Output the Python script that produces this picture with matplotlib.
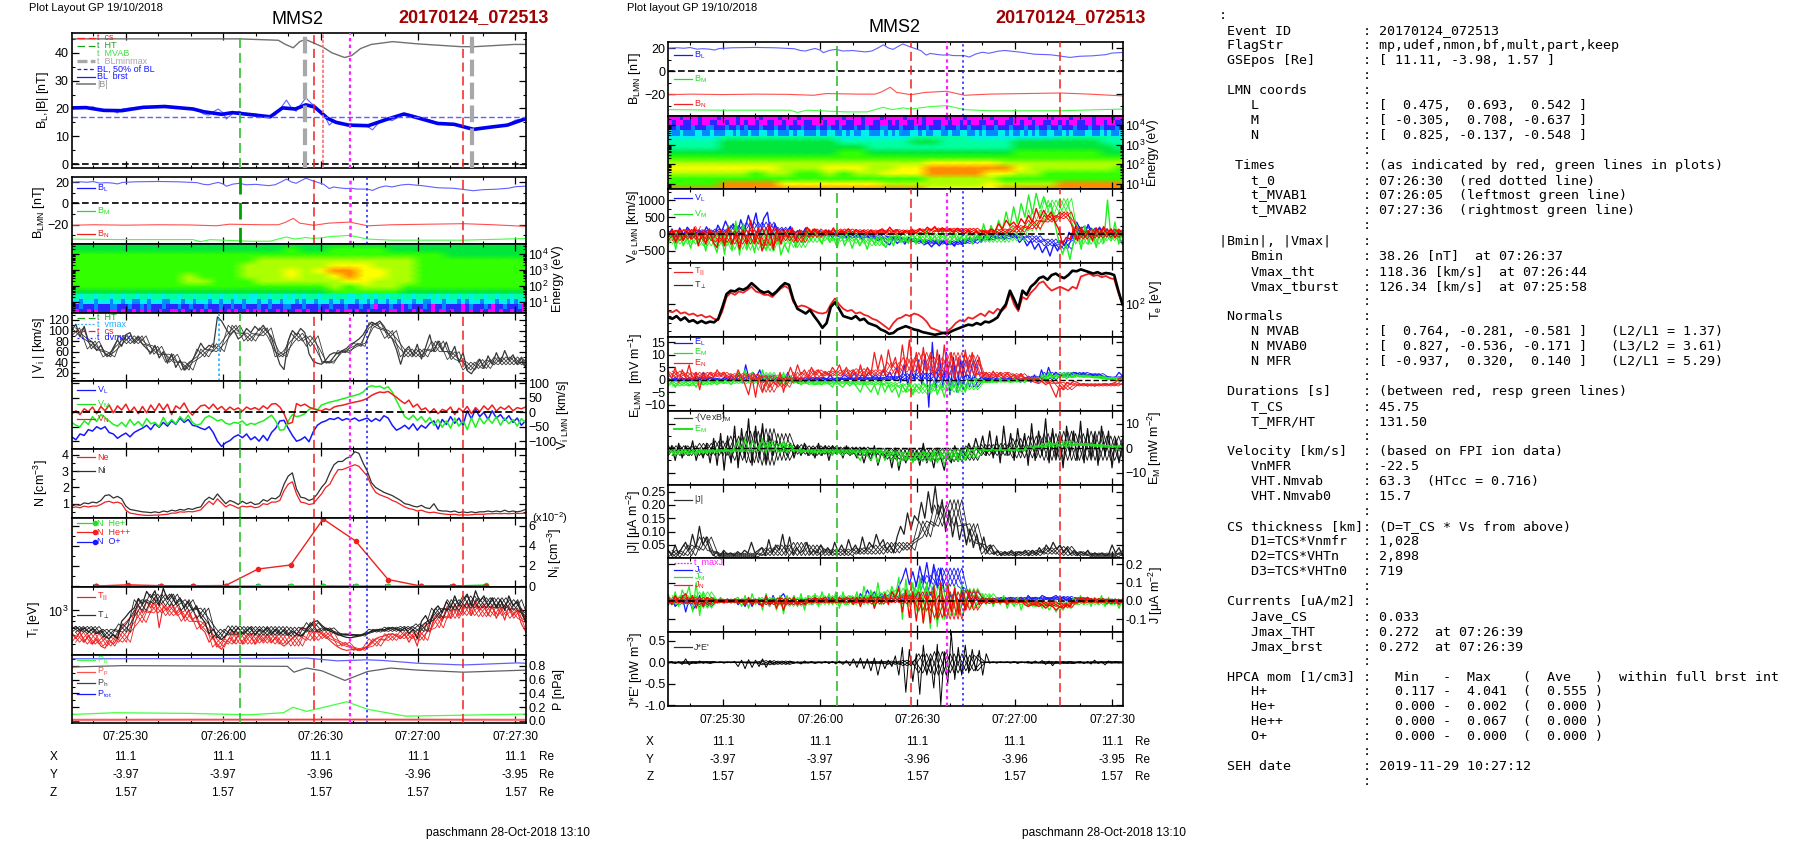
import numpy as np
import matplotlib
matplotlib.use("Agg")
import matplotlib.pyplot as plt
from matplotlib.colors import LinearSegmentedColormap
from matplotlib.lines import Line2D
from matplotlib.ticker import FixedLocator, FuncFormatter, LogLocator, LogFormatterMathtext, NullFormatter, NullLocator

plt.rcParams['font.family'] = ['Liberation Sans', 'DejaVu Sans']
plt.rcParams['mathtext.default'] = 'regular'

W, H = 1804, 841

# --- time markers, seconds after 07:25:00
T_START_L, T_END_L = 13.4, 153.1
T_START_R, T_END_R = 13.2, 153.2
t_green, t_red1, t_magenta, t_blue, t_red2 = 65.2, 88.1, 99.0, 104.2, 133.8
t_grey1, t_grey2, t_reddot, t_vmax = 85.3, 136.6, 90.9, 58.6

# --- magnetic field
t_btot = [13.4, 24.3, 46.3, 65, 77, 79.2, 81.6, 83.6, 85.3, 88, 90.8, 93.5, 97.4, 99.6, 102.3, 105.6, 112.2, 119.9, 133.1, 137.5, 149.6, 153.1]
b_tot = [45, 45, 45, 45, 44.5, 43, 41.8, 44, 44.8, 43.5, 42, 40, 38.3, 39, 41.5, 43, 44, 43.2, 42.2, 42.2, 43, 43]
t_bl_avg = [13.4, 17.8, 23.3, 28.8, 35.4, 42, 50.8, 54.1, 59.6, 62.9, 68.4, 74.5, 78.3, 82.2, 85.5, 88.2, 92.1, 94.8, 98.7, 104.7, 110.2, 115.7, 121.2, 126.1, 131.1, 137.1, 143.1, 147.5, 153.1]
bl_avg = [20.2, 20.3, 19.3, 19.2, 20.4, 20.7, 19.8, 18.8, 17.9, 18.5, 17.8, 17, 20.2, 19.8, 21.3, 20.5, 16.5, 15, 14, 13.8, 16, 18, 16.2, 14.6, 14.3, 12.5, 13.4, 14, 16.3]
t_bl = [13.4, 16, 18, 20, 22, 24, 26, 27.5, 29, 33, 40, 46, 52, 54, 55.5, 57, 58.5, 60, 61, 63, 65, 67, 70, 74, 76, 78, 79.5, 81, 82.5, 84, 85.5, 87, 89, 91, 92.7, 94, 96, 98, 99.5, 101, 104.5, 106, 108, 110, 112, 115, 117, 122, 126, 131, 134, 137, 140, 144, 148, 150, 153.1]
b_l = [20, 20.4, 20, 20.6, 19.2, 19.6, 19.2, 18.4, 19.8, 20.4, 20.7, 20.4, 19.6, 18, 17.6, 18.8, 19.8, 18.4, 16.2, 18.2, 19, 17.6, 18, 16.8, 17.6, 20.5, 23, 20.3, 19, 21.5, 23.8, 22, 20, 18, 14, 15.5, 14.6, 14, 14.4, 13.6, 13.5, 12.3, 15, 16.5, 15.6, 17.5, 18, 16.5, 14.8, 14.3, 13.2, 12, 13, 13.4, 14.4, 15.8, 16.3]
t_bn = [13.4, 20, 30, 40, 50, 58, 60, 62, 72, 77, 79, 81.6, 83.6, 88, 92.5, 99, 104.5, 112, 123, 134, 143, 153.1]
b_n = [-20.5, -20, -20.4, -20, -20.2, -21, -20.2, -19.5, -20, -20, -18, -14, -18.5, -20.5, -18.5, -17.5, -21, -20, -19.5, -19, -20, -21.5]
t_bm = [13.4, 30, 50.8, 53, 56, 68, 74.5, 79.4, 82.2, 85.5, 88, 93.5, 99, 104.5, 112, 134, 153.1]
b_m = [-33.5, -34, -34, -36, -34, -35.5, -35.5, -31.5, -33.5, -32, -33, -31, -30, -33.5, -34.5, -34.5, -33]

# --- ion velocity
v_mag = [100,112,88,108,80,78,62,72,55,52, 68,82,70,92,96,78,88,74,66,58, 72,48,60,38,56,30,44,25,36,44,
         58,76,64,72,68,126,118,104,92,100, 84,90,104,96,108,100,110,98,86,60, 36,26,80,100,92,104,96,56,42,38,
         36,44,54,58,56,62,66,74,78,84, 92,106,116,112,118,108,94,84,64,36, 62,70,52,74,46,68,92,60,80,62,
         78,54,70,40,58,24,18,30,46,28, 52,36,58,40,62,44,54,36,48,32]
v_mag_lo = [90,65,50,75,75,55,40,25,50,60,95,80,90,50,80,70,38,58,70,105,85,50,50,60,45,25,28,35,35,30]
v_mag_hi = [105,80,60,90,90,70,55,40,65,75,110,95,105,60,95,90,42,62,76,115,100,65,65,80,60,40,45,50,50,45]
vi_l = [-85,-95,-75,-80,-60,-65,-50,-58,-50,-70, -75,-90,-80,-72,-85,-70,-62,-55,-45,-60, -40,-52,-35,-48,-30,-42,-20,-35,-25,-45,
        -48,-55,-60,-50,-70,-100,-118,-105,-98,-85, -78,-88,-75,-95,-85,-100,-80,-98,-70,-55, -30,-28,-55,-80,-100,-95,-85,-102,-68,-45,
        -35,-30,-22,-25,-18,-28,-22,-26,-20,-30, -25,-20,-32,-22,-30,-12,-20,-45,-62,-55, -45,-58,-40,-62,-45,-55,-38,-30,-58,-25,
        -42,-15,-38,-20,-45,5,-22,10,-15,0, -25,5,-20,-8,-28,-12,-35,-20,-45,-30]
vi_m = [-35,-45,-50,-30,-42,-15,-32,-8,-18,-30, -42,-48,-35,-50,-25,-45,-32,-48,-22,-40, -35,-50,-18,-42,-25,-40,-15,-30,-10,-35,
        -45,-40,-20,-12,-20,-30,-25,-38,-42,-35, -38,-30,-45,-38,-42,-35,-30,-20,-10,-30, -62,-60,-30,-8,-15,-12,-5,10,15,8,
        25,30,35,38,42,46,50,55,58,62, 70,85,92,88,90,82,88,70,40,12, -15,-25,-10,-28,-15,-35,-18,-45,-25,-52,
        -30,-55,-20,-48,-28,-60,-20,-52,-18,-40, -22,-38,-15,-45,-20,-40,-25,-48,-22,-35]
vi_n = [-5,5,-8,12,2,18,-5,20,5,25, -2,22,8,28,0,18,-5,20,-2,25, 5,30,8,28,-8,22,12,32,5,-10,
        8,22,25,12,28,10,20,5,18,8, 15,4,18,10,16,8,22,12,28,30, 18,-5,-40,-35,30,22,28,18,12,8,
        5,12,8,18,22,24,28,32,35,38, 42,48,58,65,70,68,72,62,52,40, 30,42,18,28,8,15,-2,12,-5,10,
        4,18,-8,14,2,20,-5,16,2,22, 8,25,4,18,10,22,5,16,12,18]

# --- densities
n_i = [0.85,0.95,0.9,1.05,1.0,1.1,1.05,1.2,1.5,1.55, 1.35,1.45,1.3,0.85,0.65,0.6,0.55,0.5,0.48,0.45, 0.5,0.45,0.55,0.5,0.6,0.55,0.65,0.6,0.7,0.65,
       0.75,0.8,1.2,1.4,1.25,1.6,1.3,1.0,1.2,1.1, 0.95,1.15,1.0,1.1,0.95,1.0,1.25,1.15,1.35,1.3, 1.5,2.2,2.7,2.9,1.9,1.4,1.35,1.2,1.3,1.6,
       2.0,2.3,2.9,3.4,3.6,3.6,3.8,3.9,4.2,4.1, 3.5,3.0,2.3,2.0,1.85,1.7,1.6,1.5,1.35,1.2, 1.0,0.95,0.85,0.8,0.9,0.75,0.7,1.0,0.6,0.55,
       0.55,0.5,0.55,0.45,0.5,0.45,0.5,0.45,0.5,0.5, 0.55,0.5,0.55,0.5,0.6,0.5,0.55,0.5,0.55,0.65]
n_e = [0.75,0.8,0.75,0.85,0.8,0.85,0.85,0.95,1.1,1.15, 1.05,1.1,1.0,0.6,0.42,0.38,0.33,0.3,0.28,0.28, 0.3,0.3,0.33,0.35,0.42,0.42,0.5,0.48,0.52,0.5,
       0.55,0.62,0.9,1.15,0.95,1.3,1.05,0.8,0.95,0.85, 0.72,0.85,0.8,0.85,0.75,0.8,1.0,0.95,1.1,1.1, 1.2,1.8,2.2,2.35,1.6,1.1,1.05,0.95,1.0,1.3,
       1.6,2.0,2.2,2.7,3.1,3.1,3.2,3.3,3.4,3.3, 3.0,2.7,2.1,1.7,1.55,1.45,1.35,1.2,1.1,0.95, 0.8,0.7,0.65,0.55,0.6,0.5,0.45,0.48,0.42,0.38,
       0.35,0.33,0.35,0.3,0.32,0.3,0.32,0.35,0.35,0.35, 0.38,0.38,0.4,0.38,0.4,0.38,0.4,0.4,0.4,0.42]
t_hpca = [20.8, 30.8, 40.8, 50.8, 60.8, 70.8, 80.8, 90.8, 100.8, 110.8, 120.8, 130.8, 140.8]
n_hepp = [0.0, 0.12, 0.03, 0.02, 0.05, 1.7, 2.1, 6.7, 4.5, 0.65, 0.0, 0.02, 0.0]
n_hep = [0.0, 0.0, 0.0, 0.0, 0.0, 0.0, 0.0, 0.02, 0.0, 0.0, 0.0, 0.0, 0.1]
n_op = [0.0, 0.0, 0.0, 0.0, 0.0, 0.0, 0.0, 0.0, 0.0, 0.0, 0.0, 0.0, 0.0]

# --- ion temperature
ti_perp = [680,720,660,700,640,690,620,660,580,560, 610,560,800,880,980,1050,1280,1150,1480,1300, 1500,1100,1580,1250,1400,1150,1300,1050,1200,1000,
           1100,880,780,620,680,580,550,600,680,640, 700,620,660,710,600,680,640,700,620,680, 620,670,600,650,620,590,640,720,790,810,
           740,690,660,630,610,590,575,570,580,590, 610,620,650,660,680,670,690,700,680,650, 700,620,680,560,800,900,760,1000,1100,950,
           1200,1050,1350,1100,1250,1400,1100,1500,1200,1350, 1100,1300,1050,1250,1000,1350,1100,1200,950,800]
ti_perp_lo = [640,620,580,640,1000,1150,1100,1000,850,570,600,610,600,600,590,640,650,600,590,640,650,660,650,850,1000,1050,1050,1050,1000,800]
ti_perp_hi = [720,720,680,760,1250,1400,1400,1250,1050,680,730,720,720,720,710,780,700,620,610,680,710,720,760,1050,1250,1350,1300,1300,1250,900]
ti_par = [620,560,640,520,600,500,560,480,460,540, 500,560,720,780,860,920,1100,950,1200,1050, 1300,700,1100,1000,1150,950,1050,850,1000,820,
          900,700,640,520,580,480,450,520,570,510, 600,500,580,620,500,600,530,610,520,580, 510,480,520,560,600,700,680,720,760,650,
          620,580,540,500,470,450,440,445,450,440, 450,480,520,560,580,590,610,620,600,560, 620,520,600,480,700,780,640,850,950,800,
          1050,850,1150,900,1050,1200,900,1250,1000,1150, 900,1100,850,1050,820,1100,900,1000,760,650]
ti_par_lo = [520,500,480,520,780,950,900,800,680,470,500,500,510,500,480,540,560,480,440,480,540,560,540,700,850,900,880,900,850,680]
ti_par_hi = [640,620,580,640,1000,1150,1100,1000,800,560,640,620,620,620,600,680,640,520,460,560,620,650,650,900,1100,1150,1100,1150,1050,780]

# --- pressures
t_pint = [13.4, 73.9, 85.7, 95.1, 104.2, 109.3, 119.9, 134, 150.5, 153.1]
p_int = [0.905, 0.91, 0.915, 0.875, 0.89, 0.88, 0.84, 0.815, 0.845, 0.84]
t_ph = [13.4, 29.1, 79.8, 81.8, 85.7, 90.4, 97.5, 104.5, 111.6, 119.9, 134, 153.1]
p_h = [0.785, 0.805, 0.795, 0.71, 0.77, 0.73, 0.59, 0.72, 0.77, 0.74, 0.71, 0.74]
t_pb = [13.4, 26.7, 50.3, 68, 78.6, 81.5, 85.7, 98.1, 104.5, 116.3, 153.1]
p_b = [0.095, 0.12, 0.11, 0.09, 0.12, 0.2, 0.14, 0.28, 0.17, 0.07, 0.1]
t_pp = [13.4, 98, 153.1]
p_p = [0.015, 0.02, 0.015]

# --- electron velocity
ve_l = [-50,150,-120,180,-30,200,60,-80,120,-60,210,40,-100, 260,60,380,120,300,-60,420,100,550,180,620,-50,450,640,
        -100,300,-200,150,-60,220,-120,100,-30,180,-80,120,10, 90,-70,110,-120,60,-80,30,-150,40,-100,-30,-180,-20,
        -150,-60,-200,-100,-250,-320,-120,-280,-150,-300,-100,-200,-250, -180,-320,-260,-380,-240,-350,-200,-330,-250,-360,-150,-300,-220,
        -100,-200,-60,-250,-20,-180,20,-120,40,-160,60,-100,-50, -250,-120,-350,-200,-450,-280,-550,-350,-650,-300,-500,-200,-350,
        50,-100,350,120,-80,280,50,-60,200,-20,150,-120,100,-50,-300]
ve_l_lo = [-100,-80,-60,-50,-60,-50,-50,-100,-120,-60,-80,-120,-120,-160,-180,-240,-280,-300,-320,-280,-180,-150,-120,-250,-350,-450,-100,-60,-80,-100]
ve_l_hi = [100,130,120,150,250,350,350,200,100,80,60,40,20,0,-60,-120,-170,-180,-200,-150,-30,0,20,-50,-150,-200,220,180,130,80]
ve_m = [-300,100,-450,60,-350,-100,-420,80,-300,-50,-500,120,-250, -550,100,-600,250,-500,380,-620,300,-450,-100,-550,200,-300,-450,
        -200,-500,100,-620,-300,-540,50,-400,120,-300,150,-200,100, -60,-300,120,-250,-100,-400,20,-350,-80,-420,-100,-350,-150,
        -450,-100,-300,50,-250,-400,-100,-350,20,-250,-100,-280,80, -300,-50,-300,100,-200,-60,-250,120,-150,-300,50,-200,-80,
        -250,100,-300,150,-200,300,-150,250,-50,400,100,650,200, 800,300,900,500,1150,600,1200,750,1100,800,900,300,-200,-600,-300,
        -750,-200,100,-450,250,-300,150,-400,100,-250,1000,-200,350,-300,100]
ve_m_lo = [-300,-300,-350,-350,-450,-480,-500,-300,-400,-250,-200,-220,-280,-350,-250,-250,-200,-200,-220,-200,-250,-250,-200,100,400,600,-300,-300,-200,-250]
ve_m_hi = [50,30,20,50,150,150,100,100,50,80,50,50,0,-80,20,40,40,40,60,40,60,80,200,700,1000,1050,100,120,100,100]
ve_n = [-100,120,-250,60,-200,100,-150,200,-350,50,-300,150,-250, -400,120,-350,200,-300,50,-450,120,-300,400,-250,180,-500,-200,
        300,-450,150,-300,50,-100,180,-200,120,-80,200,30,150, 60,-50,120,-20,180,-30,100,40,150,-20,130,60,100,
        -10,120,-40,90,150,30,200,60,130,-40,100,50,140, 20,160,70,200,110,220,60,180,90,150,40,170,70,
        10,120,-30,80,-50,100,20,150,80,300,150,400,250, 350,200,450,300,550,350,750,450,700,500,650,350,150,-300,-100,
        -150,150,-200,200,-100,100,-200,180,-50,220,-30,150,-120,100,50]
ve_n_lo = [-200,-150,-200,-250,-300,-300,-350,-200,-250,-100,-40,0,0,0,-20,20,0,60,50,40,-20,0,50,150,350,450,-150,-120,-100,-60]
ve_n_hi = [100,130,100,100,100,120,200,150,100,150,120,150,130,120,130,120,150,180,170,170,120,150,250,400,550,650,100,150,150,130]

# --- electron temperature
te_perp = [78,76,80,74,78,72,74,70,73,70,72,71, 76,95,122,130,128,135,132,138,150,140,130,125, 128,120,128,140,150,145,110,92,88,84,90,80,
           72,64,70,95,104,92,80,78,76,80,74,76, 70,68,66,62,60,57,58,62,64,66,64,62, 61,59,58,57,56,57,58,57,60,62,64,66,
           68,67,70,68,72,71,74,78,90,100,130,110, 92,130,120,140,150,165,170,160,175,180,170,165, 175,190,188,195,190,185,180,185,178,182,180,175,130,100]
te_par = [88,86,90,84,86,82,84,80,82,78,80,76, 74,88,115,125,120,128,125,132,140,128,125,120, 120,115,125,135,142,135,105,95,98,96,92,88,
          85,84,86,100,112,100,92,88,90,84,86,82, 80,76,74,70,66,62,70,76,78,82,80,84, 82,78,72,64,62,60,58,60,64,70,
          74,72,78,76,80,84,80,88,84,92, 88,95,125,100,88,115,110,125,135,150, 155,140,130,135,140,135,130,140,135,170,
          175,180,172,175,168,172,165,162,125,100]

# --- electric field
e_n = [3,0.5,5,-1,4,1,6,0,3,-4,2,0.5,3, 1,4,1.5,3,0.5,2,0,4,1,-2,-6,1,-7,2, -5,0,-3,-1,-2,3,-5,1,5,1,6,2,4,
       1,5,2,4,1.5,3,2,5,3,6,2,5,1, 4,0,6,1,5,2,11,4,10,3,12,5,9, 2,14,4,16,3,11,2,13,3,10,1,12,0,
       14,2,11,0,9,1,12,4,11,1,9,1,3, 1,3.5,1,3,0.5,3,1,2,0.5,2.5,0,1,-0.5, -1,-1.5,-0.5,-2,-1,-4,-7,-2,-4,-1,-2,-0.5,-1,
       -2,-1.5,-2.5,-2,-2.5,-2,-2,-1.5,-2,-1.5,-1,0.5,1]
e_n_lo = [1,0,0.5,1,0.5,0.5,-5,-3,-1,0.5,1.5,1.5,1.5,1.5,2,3,3,2,2,2,1,0.8,0.5,-0.5,-1.5,-4,-2.5,-2.5,-2.5,-2]
e_n_hi = [3.5,3,3,3,2.5,2.5,1.5,1,3,4,3.5,4,4.5,4,7,9,11,9,11,10,3,3,2.5,1,0,-1,-1.5,-1.5,-1.5,0]
e_l = [0.5,-0.5,1,-0.5,0.8,0,1,-0.5,1.5,-0.3,3,0,1, 0,0.5,-0.5,1,0,1.5,-0.5,2,-1,6,0,3,1, 4,-1,1,-0.5,0.5,-1,2,0,3,-1,1,-1.5,0.5,
       -1,0.5,-1,1,0,1,0,2,0,1,0.5,2,1, 1,3,0,2,1,3,1,2,0,4,1,3,0, 5,-1,6,-2,4,0,8,-2,10,-11,15,-4,10,
       -3,11,-6,9,-5,8,1,2,0,1,0,1,0, 0.5,-0.5,0.5,-0.5,0.5,0,1,0,0.5,-1,0.5,1,-1, 2,-1,4,0,5,1,3,2,1.5,2.5,2,3,2.5,
       2,2.5,1.5,2,1.5,1,1,0.5,0.5,0,1,3,1.5]
e_l_lo = [-0.5,-0.5,-0.5,-0.5,-0.5,-0.5,-0.5,-0.5,-0.5,-0.5,-0.5,0,0,0,0,0,0,-1,-3,-3,-0.3,-0.3,-0.3,-0.5,0,1,1.5,1.5,0.5,0]
e_l_hi = [0.5,0.5,1,0.5,0.5,1,2,1,1,1,0.8,0.8,1,1,1.5,2.5,3,4,7,8,1,0.5,0.5,1.5,3,3,3,2.5,1.2,1.5]
e_m = [-2,-1,-3,-1,-2,-0.5,-2.5,-1,-3,-0.5,-2,-1,-1.5, -1,-2,-0.5,-1.5,-0.5,-2,0,3,-1,4,-1,3,0.5,-0.5, 4,-2,2,-1,0,-2,3,-2,1,-1,-0.5,-2,-1,
       -1.5,-0.5,-2,-1,-2,-0.5,-1.5,-3,-0.5,-2,-3,-1,-2.5, -1,-3,-5,-1,-3,-5,-2,-6,-1,-5,-2,-5,-3, -7,-2,-5,-1,-6,-2,-4,-1,-3,-5,-1,-6,-2,
       -7,-1,-4,0,-5,-1,-5,0,-1,0.5,-1,0,-1, -0.5,0,-1,0.5,-0.5,0,-1,0.5,-0.5,0,-1,0,-0.5, 1,0,2,0.5,3,1,2,1,1.5,0.5,1.5,1,2,
       1.5,1,1.5,1,0.8,0.8,0.5,0.5,0.2,0,0,-0.5,0]
e_m_lo = [-2.5,-2.5,-2,-1.5,-1.5,-1.5,-1,-1.5,-1.5,-2,-1.8,-1.8,-2,-2,-3,-5,-5.5,-4.5,-5,-4,-1.2,-1,-1,-0.5,0.5,0.8,1,1,0.5,0]
e_m_hi = [-0.5,-0.5,-0.3,0,0,0.5,3,2,0,-0.5,-0.5,-0.5,-0.5,-0.3,-1,-1.5,-1.5,-0.5,-0.5,0.5,-0.2,0,0,1,2,3,2,1.5,1,0.5]
vexb_m = [-3,1,-5,2,-4,1,-3,3,-5,0,-4,2,-6, 4,-7,6,-9,5,-6,9,-8,8,-4,12,-7,9,-4, 10,-6,5,-3,3,-2,1,-3,2,-4,1,-3,2,
          -3,0,-4,2,-3,1,-5,1,-2,0,-4,1,-3, -1,-4,0,-6,-1,-5,1,-7,-2,-4,-1,-8,0, -9,-2,-6,0,-5,-1,-7,2,-6,-2,-8,0,-4,
          -9,-1,-6,1,-4,0,-3,2,-2,4,-1,5,-3, 7,-4,5,-6,9,-3,6,-5,8,-2,6,-7,10, -5,7,-3,12,-6,8,-4,5,-8,9,-3,7,-5,
          11,-6,8,-4,6,-7,9,-3,7,-8,4,-6,2]
vexb_lo = [-3,-3,-3,-3,-5,-6,-7,-5,-2.5,-3,-2.5,-2.5,-3,-3,-4.5,-5,-5,-5,-5.5,-5,-3,-3,-4,-4,-5,-5,-5,-5,-5,-4]
vexb_hi = [1,1,2,3,5,7,8,6,1.5,1,1,0.5,0.5,0,0,0,0,0,0,1,1.5,2,4,5,6,7,6,7,5,4]

# --- currents
j_mag = [.03,.01,.05,.015,.04,.06,.03,.09,.04,.12,.05,.08,.03, .01,.025,.01,.03,.015,.02,.01,.025,.015,.03,.02,.06,.02,.03,
         .04,.01,.07,.02,.05,.03,.09,.02,.08,.015,.04,.02,.03, .06,.015,.03,.02,.05,.02,.04,.015,.06,.025,.05,.02,.07,
         .03,.05,.02,.08,.03,.06,.04,.09,.05,.07,.03,.05,.02, .08,.12,.09,.17,.11,.16,.14,.21,.15,.25,.17,.27,.16,
         .22,.1,.18,.08,.15,.07,.13,.05,.11,.04,.09,.03,.08, .02,.05,.015,.03,.01,.025,.015,.03,.01,.025,.02,.03,.01,
         .03,.015,.04,.02,.05,.03,.06,.035,.05,.02,.04,.015,.03, .01,.025,.015,.03,.01,.02,.012,.02,.01,.015,.05,.02,.04,.01]
j_mag_lo = [.005,.01,.03,.005,.005,.005,.01,.01,.01,.01,.01,.01,.015,.015,.02,.03,.08,.12,.12,.06,.015,.01,.01,.01,.015,.01,.01,.005,.005,.01]
j_mag_hi = [.03,.05,.08,.02,.02,.02,.04,.05,.06,.05,.035,.035,.04,.05,.06,.06,.14,.2,.22,.13,.05,.025,.025,.03,.04,.045,.025,.02,.02,.03]
j_l = [-.02,.01,-.03,-.01,.03,-.06,.01,-.05,-.02,.03,-.03,-.01,-.02, .01,-.01,.01,-.01,.01,-.01,.01,-.02,0,-.03,.01,-.03,.01,-.02,
       -.02,.02,-.03,.03,-.01,.02,.04,0,-.02,.02,-.02,.01,-.02, .02,-.02,.01,-.02,.01,-.01,.02,-.01,.03,-.01,.02,-.02,.01,
       .02,-.01,.04,.01,.06,.02,.05,.01,.04,.02,.03,.05,.02, .08,.12,.18,.09,.16,.08,.19,.1,.21,.09,.2,.07,.18,
       .05,.06,.02,.05,0,.03,-.01,.04,-.01,.02,-.01,.02,0, .02,-.01,.01,0,.02,0,.02,0,.01,.02,0,.03,.01,
       .02,.01,.03,.02,.01,.02,.03,.01,.02,0,.02,-.01,.01, 0,-.01,.01,-.01,.01,0,-.01,.01,-.01,.01,0,-.01,.01]
j_l_lo = [-.02,-.02,-.03,-.01,-.01,-.01,-.02,-.02,-.02,-.01,-.01,-.01,-.01,-.005,0,0,.03,.08,.08,0,0,0,0,0,.005,.005,0,0,-.01,-.01]
j_l_hi = [.01,.01,.01,.01,.01,.01,.01,.015,.01,.015,.01,.015,.02,.03,.03,.04,.14,.18,.18,.05,.015,.02,.02,.02,.02,.025,.02,.01,.01,.01]
j_m = [.04,-.02,.05,-.03,.06,.02,.08,-.06,.1,-.08,.05,-.03,.01, .02,-.01,.02,-.01,.01,-.01,.01,.02,-.03,.03,-.04,.04,-.02,.02,
       -.05,.04,-.03,.02,-.05,.03,-.07,.03,-.02,.03,-.03,.04,-.05, .03,-.02,.04,-.03,.05,-.01,.04,-.02,.05,-.04,.05,-.02,.03,
       -.01,.05,-.03,.08,0,.06,-.04,.1,-.02,.05,0,.08,.02, .13,-.1,.12,-.03,.1,-.05,.13,-.12,.1,-.15,.09,-.14,.1,
       -.1,.1,-.05,.08,-.06,.09,-.03,.06,-.04,.05,-.02,.04,-.02, .03,-.03,.02,-.02,.03,-.04,.01,-.03,.02,-.05,.01,-.03,-.02,
       -.03,.01,-.04,-.01,-.05,-.02,-.06,-.03,-.05,-.01,-.04,.02,-.02, .03,-.02,.02,-.03,.02,-.02,.03,-.03,.02,-.02,.01,-.04,.01]
j_m_lo = [-.02,-.02,-.04,-.01,-.01,-.01,-.02,-.03,-.03,-.02,-.02,-.02,-.02,-.02,0,-.02,-.06,-.1,-.08,-.04,-.01,-.01,-.02,-.03,-.03,-.04,-.02,-.02,-.02,-.02]
j_m_hi = [.03,.03,.05,.01,.01,.01,.02,.02,.02,.03,.03,.03,.03,.05,.06,.07,.09,.08,.05,.07,.04,.01,.01,0,0,0,.015,.015,.01,.01]
j_n = [.02,-.02,.03,-.01,.02,.04,-.01,.03,-.04,.01,-.03,.02,0, .01,-.01,.01,-.01,.01,0,.01,-.01,.01,-.02,.02,-.02,.01,-.01,
       -.03,.03,-.02,.01,-.04,.02,-.05,.01,-.01,.02,-.02,.01,-.02, .01,-.01,.02,-.01,.01,.02,-.01,.02,-.01,.02,0,.02,.01,
       -.02,.02,-.03,.02,-.01,.03,-.04,.02,-.01,.04,-.02,.05,.02, .07,-.06,.06,-.09,.05,-.11,.04,-.12,.03,-.12,.08,-.1,.1,
       -.08,.09,-.06,.07,-.07,.06,-.05,.05,-.03,.03,-.02,.02,-.01, .01,-.01,.01,-.01,.01,-.02,.01,0,-.01,.01,-.02,-.03,-.02,
       -.02,-.03,-.02,-.04,-.02,-.03,-.05,-.03,-.04,-.02,-.03,0,-.01, .02,-.01,.02,0,.01,-.01,.01,0,.01,-.01,.01,-.02,.01]
j_n_lo = [-.01,-.015,-.02,-.01,-.01,-.01,-.02,-.02,-.02,-.01,-.01,-.01,-.01,-.015,-.01,-.015,-.05,-.09,-.1,-.05,-.015,-.01,-.01,-.02,-.03,-.035,-.01,-.01,-.015,-.01]
j_n_hi = [.02,.02,.02,.01,.01,.01,.01,.015,.01,.015,.01,.015,.015,.02,.015,.03,.05,.03,.05,.06,.015,.01,.01,0,-.005,-.01,.015,.015,.01,.01]
j_dot_e = [0,.02,-.03,.02,-.05,.08,-.06,.01,-.02,.03,-.02,.01,-.03, .02,-.01,.01,-.02,.01,-.01,.02,-.1,.05,-.15,.06,-.12,.05,-.1,
           .08,-.12,.03,-.03,.01,-.02,.02,-.03,.02,-.02,.01,-.04,.03, -.02,.02,-.03,.01,-.02,.02,-.03,.02,-.04,.03,-.05,.04,-.08,
           .08,-.12,.1,-.15,.08,-.2,.1,-.3,.06,-.15,.05,-.1,.15, -.3,.35,-.7,.3,-.45,.2,-.75,.4,-.3,.1,-.6,.42,-1.0,
           .25,-.5,.7,-.4,.35,-.3,.4,-.25,.3,-.2,.28,-.3,.2, -.02,.01,-.02,.01,-.01,.01,-.02,.02,-.03,.01,-.01,.02,-.03,
           .03,-.02,.04,-.05,.03,-.08,.02,-.03,.01,-.02,.02,-.03,.01, .02,-.03,.02,-.04,.05,-.03,.02,-.06,.03,-.02,.02,-.01,.01]
j_e_lo = [-.02,-.03,-.02,-.01,-.01,-.02,-.06,-.05,-.02,-.015,-.01,-.015,-.02,-.03,-.05,-.08,-.25,-.3,-.25,-.2,-.01,-.01,-.01,-.02,-.03,-.03,-.02,-.02,-.02,-.02]
j_e_hi = [.01,.02,.02,.01,.01,.01,.04,.03,.01,.01,.01,.01,.015,.02,.03,.05,.2,.25,.2,.17,.01,.01,.01,.01,.02,.02,.01,.015,.02,.01]

# --- spectrograms, one digit = colour level of a cell (0 magenta ... 9 orange)
ion_spec = ["55555555555555555555555555555555",
            "55555555555555565566665555555555",
            "66666666666666666666666666555555",
            "66666666666667777777777766666666",
            "66666666666677777788877766666666",
            "66666666666677787899887766666666",
            "66666666766677787789887766666666",
            "66666666776667777778877766666666",
            "66666666666666666676777666666666",
            "55555555555555555566666555555555",
            "44444444444444444444444444444444",
            "33333333333333333333333333333333",
            "22222222222222222222222222222222",
            "11111111111111111111111111111111"]
ion_noise = ["44344434443443444344" "34443444344434443443" "44434443344434443434" "43444344434443344344" "34434443443444343443" "44344344434434443444",
             "33233323332332332233" "23332233323323332332" "33233233323323323332" "32332333233233323323" "23323323332332233323" "33232333233323323233",
             "11211121112211121121" "21112111211211121112" "11211211121121112211" "12111211211121112112" "01112110121112101121" "11101211121011211120",
             "10110101110010110101" "01101100101101010110" "10101101001011010110" "01011010110100101101" "11010010110101101001" "01101011010010110110"]
ion_noise_edges = [30, 14.8, 7.2, 3.5, 1.86]
elec_spec = ["11111111111111111111111111111111",
             "11111111111111111111111111111111",
             "22222222222222222222222222222222",
             "33333333333333333333333333333333",
             "33334444444433333444433333344443",
             "44445555555544444554444455555544",
             "44445555555555444444444455555554",
             "55555555555566555555555566666655",
             "66666666666666666666666666666666",
             "77777777777777777788888777777777",
             "88888888777888778899999987777776",
             "77777767766767788899998877666666",
             "66666666666666666677777666666666",
             "66669999888888877777778777799999",
             "99999999999999999988888999999999"]
elec_noise = ["00010000100001000010" "00001000010000100000" "10000010000100001000" "00100001000001000010" "00000100001000010000" "01000010000010000100",
              "01001100100110010010" "10010011001001001100" "01001001100100110010" "10011001001100100101" "00110010011001001001" "10010100110010010011",
              "11211121112211121121" "21112111211211121112" "11211211121121112211" "12111211211121112112" "11121121112111211211" "21121112111211211121",
              "32232223322322233232" "23223322322232332223" "22332232322332223232" "32223323223322322332" "23232223323223232322" "33223232223322323223"]
elec_noise_edges = [29500, 17900, 10000, 5570, 2750]
spec_colors = ['#ff00ff', '#2828ff', '#008cff', '#00f0f0', '#00ffa0', '#00e63c', '#32ff00', '#aaff00', '#ffff00', '#ff8c00']

# --- position table under the panels
table_times = [30, 60, 90, 120, 150]
table_x = ['11.1', '11.1', '11.1', '11.1', '11.1']
table_y = ['-3.97', '-3.97', '-3.96', '-3.96', '-3.95']
table_z = ['1.57', '1.57', '1.57', '1.57', '1.57']

# --- event summary text
summary_lines = [
    ":",
    " Event ID         : 20170124_072513",
    " FlagStr          : mp,udef,nmon,bf,mult,part,keep",
    " GSEpos [Re]      : [ 11.11, -3.98, 1.57 ]",
    "                  :",
    " LMN coords       :",
    "    L             : [  0.475,  0.693,  0.542 ]",
    "    M             : [ -0.305,  0.708, -0.637 ]",
    "    N             : [  0.825, -0.137, -0.548 ]",
    "                  :",
    "  Times           : (as indicated by red, green lines in plots)",
    "    t_0           : 07:26:30  (red dotted line)",
    "    t_MVAB1       : 07:26:05  (leftmost green line)",
    "    t_MVAB2       : 07:27:36  (rightmost green line)",
    "                  :",
    "|Bmin|, |Vmax|    :",
    "    Bmin          : 38.26 [nT]  at 07:26:37",
    "    Vmax_tht      : 118.36 [km/s]  at 07:26:44",
    "    Vmax_tburst   : 126.34 [km/s]  at 07:25:58",
    "                  :",
    " Normals          :",
    "    N MVAB        : [  0.764, -0.281, -0.581 ]   (L2/L1 = 1.37)",
    "    N MVAB0       : [  0.827, -0.536, -0.171 ]   (L3/L2 = 3.61)",
    "    N MFR         : [ -0.937,  0.320,  0.140 ]   (L2/L1 = 5.29)",
    "                  :",
    " Durations [s]    : (between red, resp green lines)",
    "    T_CS          : 45.75",
    "    T_MFR/HT      : 131.50",
    "                  :",
    " Velocity [km/s]  : (based on FPI ion data)",
    "    VnMFR         : -22.5",
    "    VHT.Nmvab     : 63.3  (HTcc = 0.716)",
    "    VHT.Nmvab0    : 15.7",
    "                  :",
    " CS thickness [km]: (D=T_CS * Vs from above)",
    "    D1=TCS*Vnmfr  : 1,028",
    "    D2=TCS*VHTn   : 2,898",
    "    D3=TCS*VHTn0  : 719",
    "                  :",
    " Currents [uA/m2] :",
    "    Jave_CS       : 0.033",
    "    Jmax_THT      : 0.272  at 07:26:39",
    "    Jmax_brst     : 0.272  at 07:26:39",
    "                  :",
    " HPCA mom [1/cm3] :   Min   -  Max    (  Ave   )  within full brst int",
    "    H+            :   0.117 -  4.041  (  0.555 )",
    "    He+           :   0.000 -  0.002  (  0.000 )",
    "    He++          :   0.000 -  0.067  (  0.000 )",
    "    O+            :   0.000 -  0.000  (  0.000 )",
    "                  :",
    " SEH date         : 2019-11-29 10:27:12",
    "                  :",
]

fig = plt.figure(figsize=(W / 100, H / 100), dpi=100, facecolor='white')


def ftext(x, y, s, **kw):
    # text placed in image pixels
    kw.setdefault('va', 'center')
    kw.setdefault('color', 'black')
    fig.text(x / W, 1 - y / H, s, **kw)


def key(x0, y, label, color, ls='-', lw=0.9, marker=None, tcolor=None, x1=None, fs=6.5):
    # hand drawn legend entry, like the original IDL plot
    x1 = x0 + 18 if x1 is None else x1
    if ls is not None:
        fig.add_artist(Line2D([x0 / W, x1 / W], [1 - y / H, 1 - y / H], color=color, ls=ls, lw=lw,
                              marker=marker, ms=3, markevery=[1] if marker else None, zorder=6))
    ftext(x1 + 2, y, label, color=tcolor or color, fontsize=fs, ha='left', zorder=6)


def panel(x0, x1, top, bot, xlim, ylim, yticks=None, side='left', log=False, yminor=None):
    ax = fig.add_axes([x0 / W, 1 - bot / H, (x1 - x0) / W, (bot - top) / H])
    if log:
        ax.set_yscale('log')
    ax.set_xlim(*xlim)
    ax.set_ylim(*ylim)
    ax.xaxis.set_major_locator(FixedLocator([30, 60, 90, 120, 150]))
    ax.xaxis.set_minor_locator(FixedLocator([20, 40, 50, 70, 80, 100, 110, 130, 140]))
    ax.xaxis.set_major_formatter(NullFormatter())
    if log:
        ax.yaxis.set_major_locator(LogLocator(base=10, numticks=10))
        ax.yaxis.set_major_formatter(LogFormatterMathtext())
        ax.yaxis.set_minor_locator(LogLocator(base=10, subs=np.arange(2, 10), numticks=10))
        ax.yaxis.set_minor_formatter(NullFormatter())
    else:
        ax.yaxis.set_major_locator(FixedLocator(yticks))
        ax.yaxis.set_minor_locator(FixedLocator(yminor) if yminor else NullLocator())
    ax.tick_params(axis='both', which='major', direction='in', top=True, bottom=True, left=True, right=True,
                   length=5, width=0.9, labelsize=9, pad=2)
    ax.tick_params(axis='both', which='minor', direction='in', top=True, bottom=True, left=True, right=True,
                   length=2.5, width=0.8)
    if side == 'right':
        ax.yaxis.set_tick_params(which='both', labelleft=False, labelright=True)
    for s in ax.spines.values():
        s.set_linewidth(1.2)
    return ax


def marks(ax, times_colors):
    for t, c, ls, lw in times_colors:
        ax.axvline(t, color=c, ls=ls, lw=lw, zorder=4)


def samples(values, xlim):
    return np.linspace(xlim[0], xlim[1], len(values))


def noisy(ax, xlim, lo, hi, values, color, lw=0.9):
    # dense burst data: strokes up and down the read band, plus the read spikes
    t = samples(lo, xlim)
    dt = t[1] - t[0]
    up = np.column_stack([lo, hi]).ravel()
    down = np.column_stack([hi, lo]).ravel()
    x = np.column_stack([t, t + dt / 2]).ravel()
    for y, shift in [(up, 0), (down, 0), (up, dt / 4), (down, dt / 4)]:
        ax.plot(x + shift, y, color=color, lw=0.6)
    ax.plot(samples(values, xlim), values, color=color, lw=lw)


def spectrogram(ax, rows, noise_rows, noise_edges, xlim, ylim):
    cmap = LinearSegmentedColormap.from_list('spec', spec_colors, N=256)
    z = np.array([[int(c) for c in r] for r in rows])
    x = np.linspace(xlim[0], xlim[1], z.shape[1])
    y = np.logspace(np.log10(ylim[1]), np.log10(ylim[0]), z.shape[0])
    ax.pcolormesh(x, y, z, shading='gouraud', cmap=cmap, vmin=0, vmax=9)
    zn = np.array([[int(c) for c in r] for r in noise_rows])
    xn = np.linspace(xlim[0], xlim[1], zn.shape[1] + 1)
    ax.pcolormesh(xn, noise_edges, zn, shading='flat', cmap=cmap, vmin=0, vmax=9)


GREEN, RED, MAG, BLUE = '#30c030', '#f02020', '#ff20ff', '#1818ff'
dash = (0, (6, 3))
common = [(t_green, GREEN, dash, 1.2), (t_red1, RED, dash, 1.1), (t_magenta, MAG, (0, (1.5, 1.5)), 1.6),
          (t_blue, BLUE, (0, (1.5, 2)), 1.1), (t_red2, RED, dash, 1.1)]
LB, LR, LG = '#6060ff', '#ff5050', '#40ff40'

# ============ left column ============
xl = (T_START_L, T_END_L)
L0, L1 = 71.7, 525.5

ax = panel(L0, L1, 33.3, 168, xl, (-1.4, 47), [0, 10, 20, 30, 40], yminor=[5, 15, 25, 35, 45])
ax.plot(t_btot, b_tot, color='#707070', lw=1)
ax.plot(t_bl, b_l, color=LB, lw=0.8)
ax.plot(t_bl_avg, bl_avg, color='#0000f0', lw=2.6)
ax.axhline(17, color=LB, ls=(0, (4, 2)), lw=1)
ax.axhline(0, color='black', ls=(0, (4, 2)), lw=1.2)
marks(ax, [(t_green, GREEN, dash, 1.2), (t_red1, RED, dash, 1.1), (t_reddot, '#ff7070', (0, (2, 1)), 1.2),
           (t_magenta, MAG, (0, (1.5, 1.5)), 1.6), (t_red2, RED, dash, 1.1),
           (t_grey1, '#a8a8a8', (0, (4, 1.5)), 3), (t_grey2, '#a8a8a8', (0, (4, 1.5)), 3)])

ax = panel(L0, L1, 176.7, 244.3, xl, (-38.4, 25.2), [-20, 0, 20], yminor=[-30, -10, 10])
ax.plot(t_bl, b_l, color=LB, lw=0.8)
ax.plot(t_bm, b_m, color=LG, lw=0.8)
ax.plot(t_bn, b_n, color=LR, lw=0.8)
ax.axhline(0, color='black', ls=(0, (4, 2)), lw=1.2)
marks(ax, [(t_green, '#00a000', dash, 2), (t_red1, RED, dash, 1.1), (t_magenta, MAG, (0, (1.5, 1.5)), 1.8),
           (t_blue, BLUE, (0, (1.5, 2)), 1.1), (t_red2, RED, dash, 1.1)])

yl = (10 ** 0.27, 10 ** 4.61)
ax = panel(L0, L1, 244.3, 313.3, xl, yl, side='right', log=True)
spectrogram(ax, ion_spec, ion_noise, ion_noise_edges, xl, yl)

ax = panel(L0, L1, 313.3, 381, xl, (4.3, 132.7), [20, 40, 60, 80, 100, 120], yminor=[10, 30, 50, 70, 90, 110, 130])
noisy(ax, xl, v_mag_lo, v_mag_hi, v_mag, '#383838', 0.9)
marks(ax, common + [(t_vmax, '#20b0ff', (0, (1.5, 1.5)), 1.2)])

ax = panel(L0, L1, 381, 449.3, xl, (-128, 108), [-100, -50, 0, 50, 100], side='right')
ax.plot(samples(vi_l, xl), vi_l, color=BLUE, lw=1.1)
ax.plot(samples(vi_m, xl), vi_m, color='#20f020', lw=1.1)
ax.plot(samples(vi_n, xl), vi_n, color=RED, lw=1.1)
ax.axhline(0, color='black', ls=(0, (4, 2)), lw=1.3, zorder=3)
marks(ax, common)

ax = panel(L0, L1, 449.3, 518, xl, (0.12, 4.35), [1, 2, 3, 4], yminor=[0.5, 1.5, 2.5, 3.5])
ax.plot(samples(n_e, xl), n_e, color=RED, lw=0.9)
ax.plot(samples(n_i, xl), n_i, color='#303030', lw=0.9)
marks(ax, common)

ax = panel(L0, L1, 518, 586.7, xl, (-0.07, 6.8), [0, 2, 4, 6], side='right', yminor=[1, 3, 5])
ax.plot(t_hpca, n_op, color=BLUE, lw=1, marker='o', ms=3)
ax.plot(t_hpca, n_hep, color='#20e020', lw=1, marker='o', ms=3)
ax.plot(t_hpca, n_hepp, color=RED, lw=1, marker='o', ms=3)
marks(ax, common)

ax = panel(L0, L1, 586.7, 655, xl, (400, 1630), log=True)
noisy(ax, xl, ti_par_lo, ti_par_hi, ti_par, RED, 0.8)
noisy(ax, xl, ti_perp_lo, ti_perp_hi, ti_perp, '#202020', 0.9)
marks(ax, common)

ax = panel(L0, L1, 655, 722.7, xl, (-0.025, 0.96), [0, 0.2, 0.4, 0.6, 0.8], side='right', yminor=[0.1, 0.3, 0.5, 0.7, 0.9])
ax.yaxis.set_major_formatter(FuncFormatter(lambda v, p: f'{v:.1f}'))
ax.plot(t_pint, p_int, color=LB, lw=0.9)
ax.plot(t_ph, p_h, color='#606060', lw=0.9)
ax.plot(t_pb, p_b, color=LG, lw=0.9)
ax.plot(t_pp, p_p, color='#ffa0a0', lw=2)
ax.plot(t_pp, p_p, color=RED, lw=0.6)
marks(ax, common)
ax.xaxis.set_major_formatter(FuncFormatter(lambda v, p: f'07:{25 + int(v) // 60:02d}:{int(v) % 60:02d}'))
ax.tick_params(axis='x', labelsize=8.5, pad=6)

# ============ right column ============
xr = (T_START_R, T_END_R)
R0, R1 = 668.2, 1122.5

ax = panel(R0, R1, 41.7, 115.7, xr, (-38.8, 25.7), [-20, 0, 20], yminor=[-30, -10, 10])
ax.plot(t_bl, b_l, color=LB, lw=0.8)
ax.plot(t_bm, b_m, color=LG, lw=0.8)
ax.plot(t_bn, b_n, color=LR, lw=0.8)
ax.axhline(0, color='black', ls=(0, (4, 2)), lw=1.2)
marks(ax, common)

yr = (10 ** 0.73, 10 ** 4.47)
ax = panel(R0, R1, 115.7, 189.3, xr, yr, side='right', log=True)
spectrogram(ax, elec_spec, elec_noise, elec_noise_edges, xr, yr)

ax = panel(R0, R1, 189.3, 263.3, xr, (-865, 1318), [-500, 0, 500, 1000], yminor=[-250, 250, 750, 1250])
noisy(ax, xr, ve_l_lo, ve_l_hi, ve_l, BLUE, 1)
noisy(ax, xr, ve_m_lo, ve_m_hi, ve_m, '#20f020', 1)
noisy(ax, xr, ve_n_lo, ve_n_hi, ve_n, '#ff0000', 1)
ax.axhline(0, color='black', ls=(0, (4, 2)), lw=1.2, zorder=3)
marks(ax, common)

ax = panel(R0, R1, 263.3, 336.7, xr, (54, 219), side='right', log=True)
ax.plot(samples(te_par, xr), te_par, color=RED, lw=1.3)
ax.plot(samples(te_perp, xr), te_perp, color='black', lw=1.9)
marks(ax, common)

ax = panel(R0, R1, 336.7, 410.7, xr, (-12.4, 17.3), [-10, -5, 0, 5, 10, 15])
noisy(ax, xr, e_l_lo, e_l_hi, e_l, BLUE, 0.9)
noisy(ax, xr, e_m_lo, e_m_hi, e_m, '#20f020', 0.9)
noisy(ax, xr, e_n_lo, e_n_hi, e_n, RED, 0.9)
ax.axhline(0, color='black', ls=(0, (4, 2)), lw=1, zorder=3)
marks(ax, common)

ax = panel(R0, R1, 410.7, 484.7, xr, (-14.9, 15.3), [-10, 0, 10], side='right', yminor=[-5, 5])
noisy(ax, xr, vexb_lo, vexb_hi, vexb_m, '#101010', 0.9)
noisy(ax, xr, e_m_lo, e_m_hi, e_m, '#20e020', 0.9)
ax.axhline(0, color='black', ls=(0, (4, 2)), lw=1, zorder=3)
marks(ax, common)

ax = panel(R0, R1, 484.7, 558.3, xr, (0, 0.276), [0.05, 0.10, 0.15, 0.20, 0.25])
ax.yaxis.set_major_formatter(FuncFormatter(lambda v, p: f'{v:.2f}'))
noisy(ax, xr, j_mag_lo, j_mag_hi, j_mag, '#202020', 0.9)
marks(ax, common)

ax = panel(R0, R1, 558.3, 632.3, xr, (-0.171, 0.233), [-0.1, 0, 0.1, 0.2], side='right')
ax.yaxis.set_major_formatter(FuncFormatter(lambda v, p: f'{v:.1f}'))
noisy(ax, xr, j_l_lo, j_l_hi, j_l, BLUE, 0.9)
noisy(ax, xr, j_m_lo, j_m_hi, j_m, '#20f020', 0.9)
noisy(ax, xr, j_n_lo, j_n_hi, j_n, '#ff0000', 0.9)
ax.axhline(0, color='black', ls=(0, (4, 2)), lw=1.2, zorder=3)
marks(ax, common)

ax = panel(R0, R1, 632.3, 706, xr, (-1.02, 0.70), [-1, -0.5, 0, 0.5])
ax.yaxis.set_major_formatter(FuncFormatter(lambda v, p: f'{v:.1f}'))
noisy(ax, xr, j_e_lo, j_e_hi, j_dot_e, 'black', 0.7)
marks(ax, common)
ax.xaxis.set_major_formatter(FuncFormatter(lambda v, p: f'07:{25 + int(v) // 60:02d}:{int(v) % 60:02d}'))
ax.tick_params(axis='x', labelsize=8.5, pad=6)

# ============ legends ============
kx = 77
key(kx, 38, 't  cs', RED, dash)
key(kx, 45.7, 't  HT', '#20a020', dash)
key(kx, 53.3, 't  MVAB', '#40e040', None, x1=95)
key(kx, 61, 't  BLminmax', '#a8a8a8', (0, (3, 1)), lw=2.4)
key(kx, 69, 'BL, 50% of BL', BLUE, (0, (3, 2)))
key(kx, 76.7, 'BL  brst', BLUE)
key(kx, 84.3, '|B|', '#909090', lw=1.4)
key(kx, 188, 'B$_L$', BLUE)
key(kx, 211, 'B$_M$', '#20e020')
key(kx, 234, 'B$_N$', RED)
key(kx, 317.7, 't  HT', '#20a020', dash)
key(kx, 324, 't  vmax', '#20b0ff', (0, (1.5, 1.5)))
key(kx, 331, 't  cs', RED, dash)
key(kx, 337.7, 't  dvmax', BLUE, (0, (1.5, 2)))
key(kx, 390, 'V$_L$', BLUE)
key(kx, 404, 'V$_M$', '#20e020')
key(kx, 419, 'V$_N$', RED)
key(kx, 457.3, 'Ne', RED)
key(kx, 470.7, 'Ni', '#303030')
key(kx, 523.3, 'N  He+', '#20e020', marker='o')
key(kx, 532.3, 'N  He++', RED, marker='o')
key(kx, 541.7, 'N  O+', BLUE, marker='o')
key(kx, 596.7, 'T$_{||}$', RED)
key(kx, 615, 'T$_{\\perp}$', '#303030')
key(kx, 660, 'P$_b$', LG)
key(kx, 671.7, 'P$_p$', LR)
key(kx, 683, 'P$_h$', '#404040')
key(kx, 694, 'P$_{tot}$', BLUE)
kr = 674
key(kr, 55, 'B$_L$', BLUE)
key(kr, 79.3, 'B$_M$', '#20e020')
key(kr, 104, 'B$_N$', RED)
key(kr, 198, 'V$_L$', BLUE)
key(kr, 214, 'V$_M$', '#20e020')
key(kr, 230, 'V$_N$', RED)
key(kr, 271.7, 'T$_{||}$', RED)
key(kr, 285, 'T$_{\\perp}$', '#303030')
key(kr, 342.7, 'E$_L$', BLUE)
key(kr, 352.7, 'E$_M$', '#20e020')
key(kr, 363.3, 'E$_N$', RED)
key(kr, 417.7, '-(VexB)$_M$', '#303030')
key(kr, 429, 'E$_M$', '#20e020', lw=1.4)
key(kr, 500, '|J|', '#303030')
key(kr, 562.7, 't  maxJ', MAG, (0, (1.5, 1)))
key(kr, 570, 'J$_L$', BLUE)
key(kr, 577.3, 'J$_M$', '#20e020')
key(kr, 585, 'J$_N$', RED)
key(kr, 647.3, "J*E'", '#303030')

# ============ axis titles ============
yt = dict(fontsize=9, rotation=90, ha='center')
ftext(43, 100, 'B$_L$,|B| [nT]', **yt)
ftext(39, 212, 'B$_{LMN}$ [nT]', **yt)
ftext(558, 279, 'Energy (eV)', **yt)
ftext(38.6, 348, '| V$_i$ | [km/s]', **yt)
ftext(563, 415, 'V$_{i\\ LMN}$ [km/s]', **yt)
ftext(41, 483, 'N [cm$^{-3}$]', **yt)
ftext(555, 553, 'N$_i$ [cm$^{-3}$]', **yt)
ftext(34, 620, 'T$_i$ [eV]', **yt)
ftext(559, 690, 'P [nPa]', **yt)
ftext(532, 518, '(x10$^{-2}$)', fontsize=8, ha='left')
ftext(635, 78, 'B$_{LMN}$ [nT]', **yt)
ftext(1153, 153, 'Energy (eV)', **yt)
ftext(633, 227, 'V$_{e\\ LMN}$ [km/s]', **yt)
ftext(1156, 300, 'T$_e$ [eV]', **yt)
ftext(636, 375, 'E$_{LMN}$  [mV m$^{-1}$]', **yt)
ftext(1155, 448, 'E$_M$ [mW m$^{-2}$]', **yt)
ftext(634, 522, '|J| [$\\mu$A m$^{-2}$]', **yt)
ftext(1156, 595, 'J [$\\mu$A m$^{-2}$]', **yt)
ftext(636, 670, "J*E' [nW m$^{-3}$]", **yt)

# ============ headers and footers ============
ftext(29, 8, 'Plot Layout GP 19/10/2018', fontsize=8, ha='left')
ftext(297.5, 20, 'MMS2', fontsize=13, ha='center')
ftext(474, 18, '20170124_072513', fontsize=13, ha='center', color='#a00000', fontweight='bold')
ftext(627, 8, 'Plot layout GP 19/10/2018', fontsize=8, ha='left')
ftext(894, 28, 'MMS2', fontsize=13, ha='center')
ftext(1071, 18, '20170124_072513', fontsize=13, ha='center', color='#a00000', fontweight='bold')
ftext(425.5, 833, 'paschmann 28-Oct-2018 13:10', fontsize=8.6, ha='left')
ftext(1022, 833, 'paschmann 28-Oct-2018 13:10', fontsize=8.6, ha='left')

# position table
for rows_y, lx, rex, x_at in [((757, 775, 793), 53.6, 546, lambda t: 125.5 + (t - 30) * 3.247),
                              ((742, 760, 777), 650, 1143, lambda t: 722.9 + (t - 30) * 3.241)]:
    for row, name, vals in zip(rows_y, 'XYZ', [table_x, table_y, table_z]):
        ftext(lx, row, name, fontsize=8.5, ha='center')
        ftext(rex, row, 'Re', fontsize=8.5, ha='center')
        for t, v in zip(table_times, vals):
            ftext(x_at(t), row, v, fontsize=8.5, ha='center')

# summary block on the right
for i, line in enumerate(summary_lines):
    ftext(1219, 15.7 + i * 15.02, line, family='DejaVu Sans Mono', fontsize=9.6, ha='left')

fig.savefig('out.png', dpi=100)
